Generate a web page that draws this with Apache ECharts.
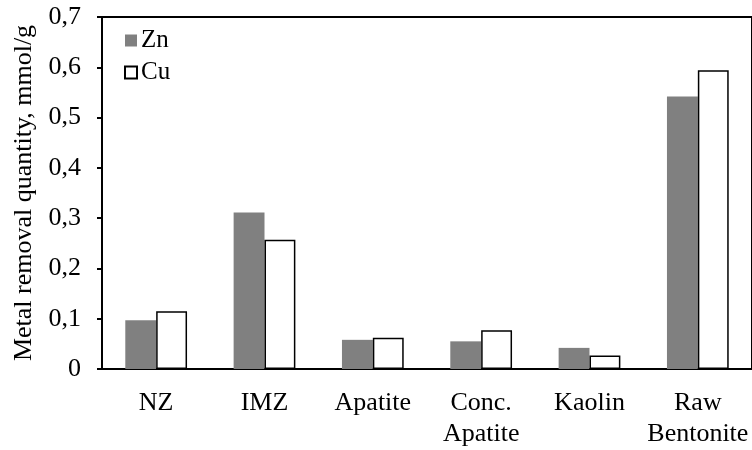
<!DOCTYPE html>
<html>
<head>
<meta charset="utf-8">
<script src="https://cdn.jsdelivr.net/npm/echarts@6/dist/echarts.min.js"></script>
<style>
html,body{margin:0;padding:0;background:#fff;}
#chart{width:752px;height:450px;}
</style>
</head>
<body>
<div id="chart"></div>
<script>
const categories = ['NZ', 'IMZ', 'Apatite', 'Conc.\nApatite', 'Kaolin', 'Raw\nBentonite'];
const znValues = [0.097, 0.311, 0.058, 0.055, 0.042, 0.542];
const cuValues = [0.115, 0.257, 0.062, 0.077, 0.027, 0.594];
const yTickLabels = ['0', '0,1', '0,2', '0,3', '0,4', '0,5', '0,6', '0,7'];
const yTitle = 'Metal removal quantity, mmol/g';

const FONT = '"Liberation Serif", "Times New Roman", serif';
const chart = echarts.init(document.getElementById('chart'), null, {renderer: 'canvas'});
chart.setOption({
  animation: false,
  backgroundColor: '#fff',
  textStyle: {fontFamily: FONT, color: '#000'},
  grid: {
    left: 102, top: 17, width: 652, height: 359,
    show: true, borderColor: '#000', borderWidth: 2, backgroundColor: 'transparent'
  },
  legend: {
    orient: 'vertical',
    left: 124, top: 28,
    padding: 0,
    itemWidth: 12, itemHeight: 12,
    itemGap: 7,
    icon: 'rect',
    textStyle: {fontFamily: FONT, fontSize: 25, color: '#000', padding: [0, 0, 0, -1]},
    data: ['Zn', 'Cu']
  },
  xAxis: {
    type: 'category',
    data: categories,
    axisLine: {show: true, lineStyle: {color: '#000', width: 2}},
    axisTick: {show: false},
    axisLabel: {fontFamily: FONT, fontSize: 26, color: '#000', margin: 19, lineHeight: 31, interval: 0}
  },
  yAxis: {
    type: 'value',
    min: 0, max: 0.7, interval: 0.1,
    name: yTitle,
    nameLocation: 'middle',
    nameGap: 64,
    nameTextStyle: {fontFamily: FONT, fontSize: 26, color: '#000'},
    axisLine: {show: true, lineStyle: {color: '#000', width: 2}},
    axisTick: {show: true, length: 5, lineStyle: {color: '#000', width: 2}},
    splitLine: {show: false},
    axisLabel: {
      fontFamily: FONT, fontSize: 26, color: '#000', margin: 21,
      formatter: function (v) { return yTickLabels[Math.round(v * 10)]; }
    }
  },
  series: [
    {
      name: 'Zn', type: 'bar', data: znValues,
      barGap: '0%', barCategoryGap: '43%',
      itemStyle: {color: '#808080'}
    },
    {
      name: 'Cu', type: 'bar', data: cuValues,
      barGap: '0%', barCategoryGap: '43%',
      itemStyle: {color: '#ffffff', borderColor: '#000', borderWidth: 1.5}
    }
  ]
});
</script>
</body>
</html>
